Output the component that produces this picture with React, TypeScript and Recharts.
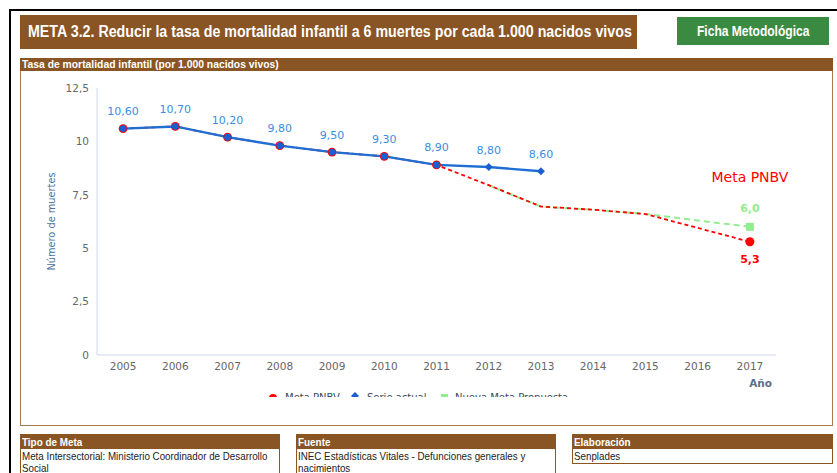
import { LineChart, Line, XAxis, YAxis, LabelList, ReferenceDot } from "recharts";

const years = ["2005", "2006", "2007", "2008", "2009", "2010", "2011", "2012", "2013", "2014", "2015", "2016", "2017"];
const serieActual = [10.6, 10.7, 10.2, 9.8, 9.5, 9.3, 8.9, 8.8, 8.6, null, null, null, null];
const metaPnbv = [10.6, 10.7, 10.2, 9.8, 9.5, 9.3, 8.9, 7.95, 6.95, 6.8, 6.6, 5.95, 5.3];
const nuevaMeta = [null, null, null, null, null, null, null, 7.95, 6.95, 6.8, 6.6, 6.3, 6.0];
const yTicks = [0, 2.5, 5, 7.5, 10, 12.5];

const data = years.map((year, i) => ({
  year,
  actual: serieActual[i],
  meta: metaPnbv[i],
  nueva: nuevaMeta[i],
}));

// slot edges for the small tick marks between years
const slotEdges = [...years.map((_, i) => i), years.length];
const last = years.length - 1;

const BROWN = "#8a5524";
const BLUE = "#1f6ed4";
const RED = "#ff0000";
const GREEN = "#90ee90";
const SANS = "'Liberation Sans', Arial, sans-serif";
const CHART_FONT = "'DejaVu Sans', Verdana, sans-serif";

const comma = (v: number, d: number) => v.toFixed(d).replace(".", ",");

// page text is a narrow font; squeeze Liberation Sans to match
function Narrow({ children, scale, width }: { children: any; scale: number; width?: number }) {
  return (
    <div
      style={{
        transform: `scaleX(${scale})`,
        transformOrigin: "left top",
        width: width ? width / scale : undefined,
        whiteSpace: width ? "normal" : "nowrap",
      }}
    >
      {children}
    </div>
  );
}

function BlueDot(p: any) {
  const { cx, cy, index } = p;
  if (cx == null || cy == null || serieActual[index] == null) return <g key={`b${index}`} />;
  if (metaPnbv[index] === serieActual[index]) {
    return <circle key={`b${index}`} cx={cx} cy={cy} r={3.4} fill="#1a5fd0" />;
  }
  return (
    <path
      key={`b${index}`}
      d={`M${cx},${cy - 4} L${cx + 4},${cy} L${cx},${cy + 4} L${cx - 4},${cy} Z`}
      fill="#1a5fd0"
    />
  );
}

function RedDot(p: any) {
  const { cx, cy, index } = p;
  if (cx == null || cy == null || !(index <= 6 || index === last)) return <g key={`r${index}`} />;
  return <circle key={`r${index}`} cx={cx} cy={cy} r={index === last ? 4.5 : 4.4} fill={RED} />;
}

function GreenDot(p: any) {
  const { cx, cy, index } = p;
  if (cx == null || cy == null || index !== last) return <g key={`g${index}`} />;
  return <rect key={`g${index}`} x={cx - 4} y={cy - 4} width={8} height={8} fill={GREEN} />;
}

function pos(p: any) {
  const x = p.x ?? p.viewBox?.x;
  const y = p.y ?? p.viewBox?.y;
  return { x, y };
}

function BlueLabel(p: any) {
  const { x, y } = pos(p);
  if (p.value == null || x == null) return null;
  return (
    <text x={x} y={y - 13.5} textAnchor="middle" fill="#3a8de2" fontSize={11} fontFamily={CHART_FONT}>
      {comma(Number(p.value), 2)}
    </text>
  );
}

function GreenLabel(p: any) {
  const { x, y } = pos(p);
  if (p.value == null || p.index !== last) return null;
  return (
    <text x={x} y={y - 14.5} textAnchor="middle" fill={GREEN} fontSize={11} fontWeight="bold" fontFamily={CHART_FONT}>
      {comma(Number(p.value), 1)}
    </text>
  );
}

function RedLabel(p: any) {
  const { x, y } = pos(p);
  if (p.value == null || p.index !== last) return null;
  return (
    <text x={x} y={y + 21.5} textAnchor="middle" fill={RED} fontSize={11} fontWeight="bold" fontFamily={CHART_FONT}>
      {comma(Number(p.value), 1)}
    </text>
  );
}

function InfoBox({ left, width, title, text, height }: { left: number; width: number; title: string; text: string; height: number }) {
  return (
    <div
      style={{
        position: "absolute",
        left,
        top: 434,
        width,
        height,
        border: `1px solid ${BROWN}`,
        boxSizing: "border-box",
        fontFamily: SANS,
        fontSize: 11,
        lineHeight: "12px",
      }}
    >
      <div style={{ background: BROWN, color: "#fff", fontWeight: "bold", height: 14, lineHeight: "14px", paddingLeft: 1 }}>
        <Narrow scale={0.9}>{title}</Narrow>
      </div>
      <div style={{ color: "#222", paddingLeft: 1, paddingTop: 1 }}>
        <Narrow scale={0.89} width={width - 3}>
          {text}
        </Narrow>
      </div>
    </div>
  );
}

export default function App() {
  return (
    <div style={{ position: "absolute", left: 0, top: 0, width: 837, height: 473, overflow: "hidden", background: "#fff" }}>
      {/* outer frame */}
      <div style={{ position: "absolute", left: 9, top: 9, width: 840, height: 480, borderTop: "2px solid #000", borderLeft: "2px solid #000" }} />

      {/* title */}
      <div
        style={{
          position: "absolute",
          left: 20,
          top: 15,
          width: 617,
          height: 34,
          background: BROWN,
          color: "#fff",
          fontFamily: SANS,
          fontWeight: "bold",
          fontSize: 16,
          lineHeight: "34px",
          paddingLeft: 8,
          boxSizing: "border-box",
          overflow: "hidden",
        }}
      >
        <Narrow scale={0.89}>META 3.2. Reducir la tasa de mortalidad infantil a 6 muertes por cada 1.000 nacidos vivos</Narrow>
      </div>
      <div
        style={{
          position: "absolute",
          left: 677,
          top: 17,
          width: 152,
          height: 28,
          background: "#3a8b41",
          color: "#fff",
          fontFamily: SANS,
          fontWeight: "bold",
          fontSize: 14,
          lineHeight: "28px",
          paddingLeft: 20,
          boxSizing: "border-box",
        }}
      >
        <Narrow scale={0.86}>Ficha Metodológica</Narrow>
      </div>

      {/* chart box */}
      <div style={{ position: "absolute", left: 20, top: 58, width: 813, height: 368, border: "1px solid #a87a4c", boxSizing: "border-box" }} />
      <div
        style={{
          position: "absolute",
          left: 20,
          top: 58,
          width: 813,
          height: 13,
          background: BROWN,
          color: "#fff",
          fontFamily: SANS,
          fontWeight: "bold",
          fontSize: 11,
          lineHeight: "13px",
          paddingLeft: 2,
          boxSizing: "border-box",
        }}
      >
        <Narrow scale={0.94}>Tasa de mortalidad infantil (por 1.000 nacidos vivos)</Narrow>
      </div>

      <div style={{ position: "absolute", left: 21, top: 71, width: 810, height: 326, overflow: "hidden" }}>
        <LineChart width={810} height={326} data={data} margin={{ top: 17, right: 55, left: 0, bottom: 6 }}>
          <XAxis
            xAxisId="slots"
            type="number"
            domain={[0, years.length]}
            ticks={slotEdges}
            allowDataOverflow
            height={0}
            tick={false}
            tickSize={5}
            tickLine={{ stroke: "#ccd6eb" }}
            axisLine={false}
          />
          <XAxis
            xAxisId="cat"
            dataKey="year"
            padding={{ left: 26.1, right: 26.1 }}
            height={36}
            tickLine={false}
            axisLine={{ stroke: "#ccd6eb" }}
            interval={0}
            tick={{ fontSize: 10.5, fill: "#666", fontFamily: CHART_FONT }}
            label={{
              value: "Año",
              position: "insideBottomRight",
              offset: 4,
              style: { fill: "#5a6f8c", fontSize: 10.5, fontWeight: "bold", fontFamily: CHART_FONT },
            }}
          />
          <YAxis
            domain={[0, 12.5]}
            ticks={yTicks}
            width={76}
            tickLine={false}
            axisLine={{ stroke: "#ccd6eb" }}
            tickFormatter={(v: number) => (Number.isInteger(v) ? String(v) : comma(v, 1))}
            tick={{ fontSize: 10.5, fill: "#666", fontFamily: CHART_FONT }}
            label={{
              value: "Número de muertes",
              angle: -90,
              position: "insideLeft",
              offset: 31,
              style: { textAnchor: "middle", fill: "#4d72a0", fontSize: 9.8, fontFamily: CHART_FONT },
            }}
          />
          <Line
            xAxisId="cat"
            dataKey="nueva"
            stroke={GREEN}
            strokeWidth={2}
            strokeDasharray="6 4"
            dot={GreenDot}
            activeDot={false}
            connectNulls={false}
            isAnimationActive={false}
          >
            <LabelList dataKey="nueva" content={GreenLabel} />
          </Line>
          <Line
            xAxisId="cat"
            dataKey="meta"
            stroke={RED}
            strokeWidth={1.8}
            strokeDasharray="4 3"
            dot={RedDot}
            activeDot={false}
            isAnimationActive={false}
          >
            <LabelList dataKey="meta" content={RedLabel} />
          </Line>
          <Line
            xAxisId="cat"
            dataKey="actual"
            stroke={BLUE}
            strokeWidth={2.4}
            dot={BlueDot}
            activeDot={false}
            isAnimationActive={false}
          >
            <LabelList dataKey="actual" content={BlueLabel} />
          </Line>
          <ReferenceDot
            xAxisId="cat"
            x="2017"
            y={8.33}
            r={0}
            fill="none"
            stroke="none"
            label={{ value: "Meta PNBV", position: "center", fill: RED, fontSize: 14, fontFamily: CHART_FONT }}
          />
        </LineChart>

        {/* legend, cut by the box as in the page */}
        <svg width={810} height={326} style={{ position: "absolute", left: 0, top: 0, pointerEvents: "none" }}>
          <g fontFamily={CHART_FONT} fontSize={10} fill="#3a4a5e">
            <circle cx={252} cy={327} r={4} fill={RED} />
            <text x={264} y={330}>Meta PNBV</text>
            <path d="M334,321 L338,325 L334,329 L330,325 Z" fill="#1a5fd0" />
            <text x={346} y={330}>Serie actual</text>
            <rect x={420} y={323} width={7} height={8} fill={GREEN} />
            <text x={434} y={330}>Nueva Meta Propuesta</text>
          </g>
        </svg>
      </div>

      {/* info boxes */}
      <InfoBox left={20} width={260} height={60} title="Tipo de Meta" text="Meta Intersectorial: Ministerio Coordinador de Desarrollo Social" />
      <InfoBox left={296} width={260} height={60} title="Fuente" text="INEC Estadísticas Vitales - Defunciones generales y nacimientos" />
      <InfoBox left={572} width={261} height={30} title="Elaboración" text="Senplades" />
    </div>
  );
}
